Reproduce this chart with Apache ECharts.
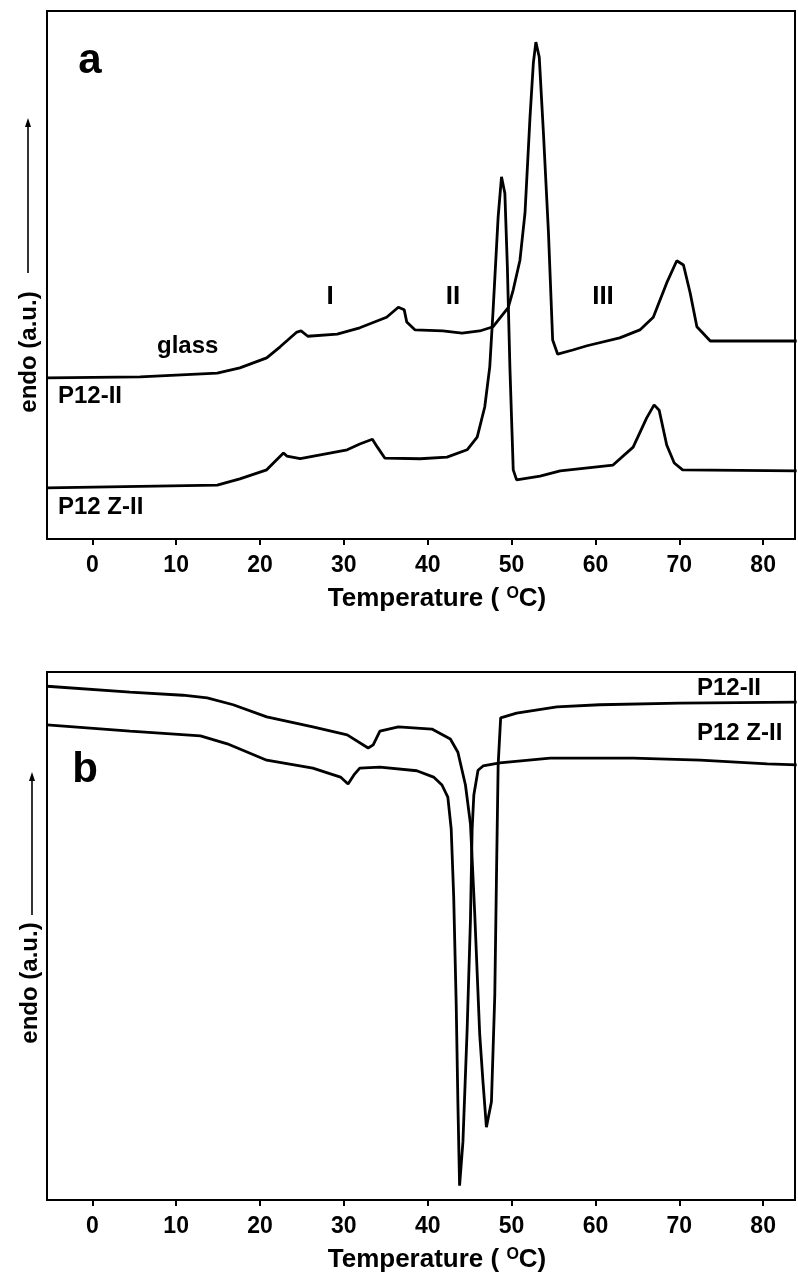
<!DOCTYPE html>
<html>
<head>
<meta charset="utf-8">
<script src="https://cdn.jsdelivr.net/npm/echarts@6/dist/echarts.min.js"></script>
<style>
html,body{margin:0;padding:0;background:#ffffff;}
#chart{width:798px;height:1280px;}
</style>
</head>
<body>
<div id="chart"></div>
<script>
// ---------- data (temperature in °C, signal in arbitrary units 0-100 of each panel) ----------
const xTicks = [0, 10, 20, 30, 40, 50, 60, 70, 80];

// Panel a (heating)
const aP12II_T = [-5.4, 5.7, 14.9, 17.6, 20.8, 22.4, 24.4, 24.9, 25.7, 29.2, 31.9, 35.1, 36.5, 37.2, 37.5, 38.5, 41.8, 44.1, 46.2, 47.8, 49.6, 50.2, 51.0, 51.6, 52.2, 52.6, 52.9, 53.3, 53.8, 54.4, 54.9, 55.5, 57.3, 59.0, 62.9, 65.3, 66.9, 68.5, 69.7, 70.5, 71.3, 72.1, 73.7, 84.0];
const aP12II_Y = [30.5, 30.7, 31.4, 32.4, 34.3, 36.4, 39.2, 39.4, 38.4, 38.8, 40.0, 42.0, 43.9, 43.4, 41.1, 39.6, 39.4, 39.0, 39.4, 40.2, 43.8, 47.2, 52.8, 61.7, 79.9, 90.2, 94.1, 91.3, 76.9, 58.0, 37.7, 35.0, 35.8, 36.6, 38.1, 39.6, 42.0, 48.5, 52.7, 51.9, 46.6, 40.2, 37.5, 37.5];

const aP12ZII_T = [-5.4, 14.9, 17.6, 20.8, 22.8, 23.2, 24.8, 30.4, 31.9, 33.4, 34.0, 34.9, 39.1, 42.3, 44.7, 45.9, 46.8, 47.4, 47.8, 48.4, 48.8, 49.2, 49.5, 49.8, 50.2, 50.6, 53.4, 55.8, 62.1, 64.5, 66.1, 67.0, 67.6, 68.5, 69.4, 70.4, 84.0];
const aP12ZII_Y = [9.7, 10.2, 11.4, 13.1, 16.3, 15.7, 15.2, 16.9, 18.0, 18.9, 17.4, 15.3, 15.2, 15.5, 16.9, 19.3, 25.0, 32.6, 43.4, 61.0, 68.6, 65.5, 51.5, 32.6, 13.1, 11.2, 11.9, 12.9, 14.0, 17.4, 22.9, 25.4, 24.4, 17.8, 14.4, 13.1, 12.9];

// Panel b (cooling)
const bP12II_T = [-5.4, 4.5, 10.8, 13.7, 16.8, 20.8, 26.3, 30.4, 32.9, 33.5, 34.3, 36.5, 40.5, 42.7, 43.6, 44.5, 45.1, 45.6, 46.2, 46.6, 47.0, 47.6, 48.0, 48.2, 48.4, 48.7, 50.6, 55.4, 60.5, 70.0, 84.0];
const bP12II_Y = [97.3, 96.2, 95.6, 95.1, 93.8, 91.5, 89.6, 88.1, 85.6, 86.2, 88.8, 89.6, 89.2, 87.3, 84.8, 78.6, 71.2, 54.5, 31.4, 22.2, 13.8, 18.6, 38.8, 61.2, 82.4, 91.3, 92.2, 93.4, 93.8, 94.1, 94.3];

const bP12ZII_T = [-5.4, 4.5, 12.9, 16.1, 20.8, 26.3, 29.6, 30.5, 31.2, 31.9, 34.3, 38.7, 40.7, 41.7, 42.4, 42.8, 43.1, 43.4, 43.6, 43.8, 44.2, 44.7, 45.1, 45.3, 45.5, 46.0, 46.6, 48.6, 54.6, 64.5, 72.5, 80.5, 84.0];
const bP12ZII_Y = [90.0, 88.8, 87.9, 86.4, 83.3, 81.8, 80.1, 78.8, 80.5, 81.8, 82.0, 81.3, 80.1, 78.6, 76.3, 70.3, 57.4, 36.9, 18.4, 2.7, 11.0, 32.2, 53.2, 70.3, 76.7, 81.4, 82.2, 82.8, 83.7, 83.7, 83.3, 82.6, 82.4];

// ---------- chart ----------
const FONT = '"Liberation Sans", Arial, Helvetica, sans-serif';
const pairs = (t, y) => t.map((v, i) => [v, y[i]]);

const chart = echarts.init(document.getElementById('chart'), null, {renderer: 'canvas'});

function xAxisFor(gi, gap) {
  return {
    gridIndex: gi, type: 'value', min: -5.4, max: 83.8,
    axisLine: {show: true, onZero: false, lineStyle: {color: '#000', width: 2}},
    axisTick: {show: true, customValues: xTicks, length: 6, inside: false, lineStyle: {color: '#000', width: 2}},
    axisLabel: {customValues: xTicks, color: '#000', fontSize: 23, fontWeight: 'bold', fontFamily: FONT, margin: 15},
    splitLine: {show: false},
    name: 'Temperature ( {s|O}C)',
    nameLocation: 'middle', nameGap: gap,
    nameTextStyle: {
      color: '#000', fontSize: 26, fontWeight: 'bold', fontFamily: FONT, padding: [0, 0, 0, 32],
      rich: {s: {fontSize: 16, fontWeight: 'bold', fontFamily: FONT, color: '#000', verticalAlign: 'top', lineHeight: 14}}
    }
  };
}
function yAxisFor(gi) {
  return {gridIndex: gi, type: 'value', min: 0, max: 100, show: false};
}
const lineStyle = {color: '#000', width: 2.8};
function series(gi, data) {
  return {type: 'line', xAxisIndex: gi, yAxisIndex: gi, data: data, showSymbol: false, symbol: 'none',
    smooth: false, lineStyle: lineStyle, animation: false, silent: true};
}

function txt(x, y, s, size, align, rot) {
  return {type: 'text', x: x, y: y, rotation: rot || 0, silent: true,
    style: {text: s, fill: '#000', font: 'bold ' + size + 'px ' + FONT, textAlign: align || 'left', textVerticalAlign: 'middle'}};
}
function arrow(x, y0, y1) {
  return [
    {type: 'line', silent: true, shape: {x1: x, y1: y0, x2: x, y2: y1 + 6}, style: {stroke: '#000', lineWidth: 1.6}},
    {type: 'polygon', silent: true, shape: {points: [[x, y1], [x - 3, y1 + 9], [x + 3, y1 + 9]]}, style: {fill: '#000'}}
  ];
}

const option = {
  backgroundColor: '#ffffff',
  animation: false,
  grid: [
    {left: 47, top: 11, width: 748, height: 528, show: true, borderColor: '#000', borderWidth: 2, containLabel: false, outerBoundsMode: 'none'},
    {left: 47, top: 672, width: 748, height: 528, show: true, borderColor: '#000', borderWidth: 2, containLabel: false, outerBoundsMode: 'none'}
  ],
  xAxis: [xAxisFor(0, 47), xAxisFor(1, 47)],
  yAxis: [yAxisFor(0), yAxisFor(1)],
  series: [
    series(0, pairs(aP12II_T, aP12II_Y)),
    series(0, pairs(aP12ZII_T, aP12ZII_Y)),
    series(1, pairs(bP12II_T, bP12II_Y)),
    series(1, pairs(bP12ZII_T, bP12ZII_Y))
  ],
  graphic: [
    txt(90, 61, 'a', 42, 'center'),
    txt(157, 346, 'glass', 24),
    txt(58, 396, 'P12-II', 24),
    txt(58, 507, 'P12 Z-II', 24),
    txt(330, 297, 'I', 26, 'center'),
    txt(453, 297, 'II', 26, 'center'),
    txt(603, 297, 'III', 26, 'center'),
    txt(29, 352, 'endo (a.u.)', 24, 'center', Math.PI / 2),
    ...arrow(28, 273, 118),
    txt(85, 770, 'b', 42, 'center'),
    txt(697, 688, 'P12-II', 24),
    txt(697, 733, 'P12 Z-II', 24),
    txt(30, 983, 'endo (a.u.)', 24, 'center', Math.PI / 2),
    ...arrow(32, 915, 772)
  ]
};
chart.setOption(option);
</script>
</body>
</html>
